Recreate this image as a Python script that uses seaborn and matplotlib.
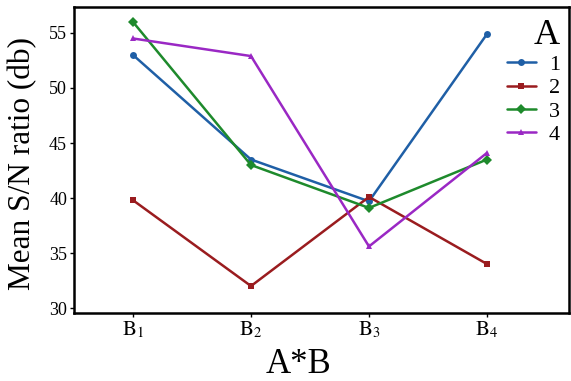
import matplotlib
matplotlib.use("Agg")
import matplotlib.pyplot as plt
import seaborn as sns
import pandas as pd

sns.set_theme(style="white")
plt.rcParams["font.family"] = ["Liberation Serif", "DejaVu Serif"]
plt.rcParams["mathtext.fontset"] = "stix"
plt.rcParams["text.color"] = "black"
plt.rcParams["axes.labelcolor"] = "black"
plt.rcParams["xtick.color"] = "black"
plt.rcParams["ytick.color"] = "black"

# Levels of factor B and mean S/N ratios for each level of factor A
b_levels = [1, 2, 3, 4]
b_labels = [r"$\mathrm{B}_1$", r"$\mathrm{B}_2$", r"$\mathrm{B}_3$", r"$\mathrm{B}_4$"]
a1 = [53.0, 43.5, 39.7, 54.9]
a2 = [39.8, 32.0, 40.1, 34.0]
a3 = [56.0, 43.0, 39.1, 43.5]
a4 = [54.5, 52.9, 35.6, 44.1]

series = {"1": a1, "2": a2, "3": a3, "4": a4}
df = pd.DataFrame(
    [(b, a, v) for a, vals in series.items() for b, v in zip(b_levels, vals)],
    columns=["B", "A", "SN"],
)

palette = {"1": "#1f5fa6", "2": "#9a1c1f", "3": "#1e8a2c", "4": "#9a28c4"}
markers = {"1": "o", "2": "s", "3": "D", "4": "^"}

fig = plt.figure(figsize=(5.71, 3.81), dpi=100)
ax = fig.add_axes([74 / 571, 1 - 313 / 381, (569 - 74) / 571, (313 - 7) / 381])

sns.lineplot(
    data=df, x="B", y="SN", hue="A", style="A",
    palette=palette, markers=markers, dashes=False,
    linewidth=1.8, markersize=5, markeredgewidth=0, ax=ax,
)

ax.set_xlim(0.5, 4.695)
ax.set_ylim(29.55, 57.36)
ax.set_xticks(b_levels)
ax.set_xticklabels(b_labels, fontsize=15)
ax.set_yticks([30, 35, 40, 45, 50, 55])
ax.tick_params(axis="y", labelsize=13, length=3, width=1, direction="out", left=True, pad=2)
ax.tick_params(axis="x", length=3, width=1, direction="out", bottom=True, pad=2)
for s in ax.spines.values():
    s.set_color("black")
    s.set_linewidth(1.8)

xl = ax.set_xlabel("A*B", fontsize=25)
xl.set_va("baseline")
ax.xaxis.set_label_coords((298 - 74) / 495, (313 - 373) / 306)
ax.set_ylabel("Mean S/N ratio (db)", fontsize=22.5)
ax.yaxis.set_label_coords((37 - 74) / 495, (313 - 164) / 306)

handles, labels = ax.get_legend_handles_labels()
leg = ax.legend(
    handles, labels, title="A", loc="upper right",
    bbox_to_anchor=(1.0, 0.99), frameon=False,
    fontsize=16, title_fontsize=26, handlelength=1.3,
    handletextpad=0.6, labelspacing=0.12, borderaxespad=0.2,
    borderpad=0.2,
)
leg._legend_box.align = "right"

fig.savefig("out.png", dpi=100)
